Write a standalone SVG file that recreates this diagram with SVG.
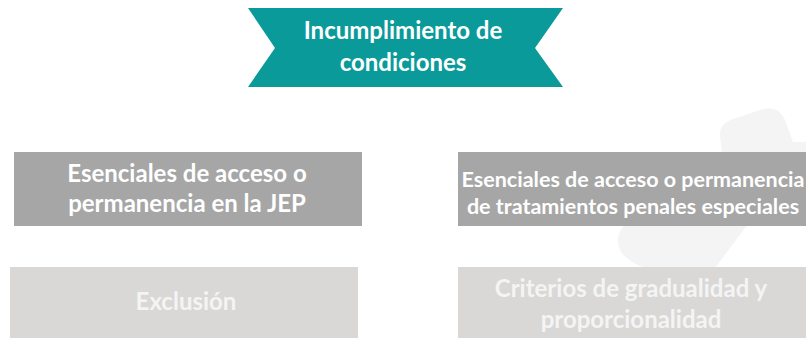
<svg xmlns="http://www.w3.org/2000/svg" width="806" height="338" viewBox="0 0 806 338">
<style>
  text { font-family: Lato, "Open Sans", "Liberation Sans", sans-serif; font-weight: 700; text-anchor: middle; }
  .w { fill: #ffffff; }
  .lw { fill: #f4f4f4; }
  .dark { fill: #a6a6a6; }
  .light { fill: #d9d8d6; }
</style>
<rect width="806" height="338" fill="#ffffff"/>
<path id="watermark" fill="#f4f4f4" d="M 722,152 L 720,136 Q 719,124 733,119 L 760,110 Q 778,104 785,120 L 793,142 L 806,142 L 806,200 L 760,215 L 745,228 L 715,268 L 645,268 Q 628,262 621,252 Q 614,240 622,228 L 660,190 L 700,152 Z"/>
<g id="connectors"></g>
<g id="node-top">
  <polygon fill="#0a9a9a" points="248,8 563,8 535,48 563,87 248,87 275,48"/>
  <text class="w" x="403" y="39" font-size="24">Incumplimiento de</text>
  <text class="w" x="403" y="71" font-size="24">condiciones</text>
</g>
<g id="node-left">
  <rect class="dark" x="14" y="152" width="348" height="74"/>
  <text class="w" x="187" y="182" font-size="24">Esenciales de acceso o</text>
  <text class="w" x="187" y="212" font-size="24">permanencia en la JEP</text>
</g>
<g id="node-right">
  <rect class="dark" x="458" y="152" width="348" height="74"/>
  <text class="w" x="633" y="186.5" font-size="21.5">Esenciales de acceso o permanencia</text>
  <text class="w" x="633" y="213.5" font-size="21.5">de tratamientos penales especiales</text>
</g>
<g id="node-exclusion">
  <rect class="light" x="10" y="267" width="348" height="71"/>
  <text class="lw" x="186" y="310" font-size="24">Exclusión</text>
</g>
<g id="node-criterios">
  <rect class="light" x="458" y="267" width="348" height="71"/>
  <text class="lw" x="631" y="297" font-size="24">Criterios de gradualidad y</text>
  <text class="lw" x="631" y="328" font-size="24">proporcionalidad</text>
</g>
</svg>
